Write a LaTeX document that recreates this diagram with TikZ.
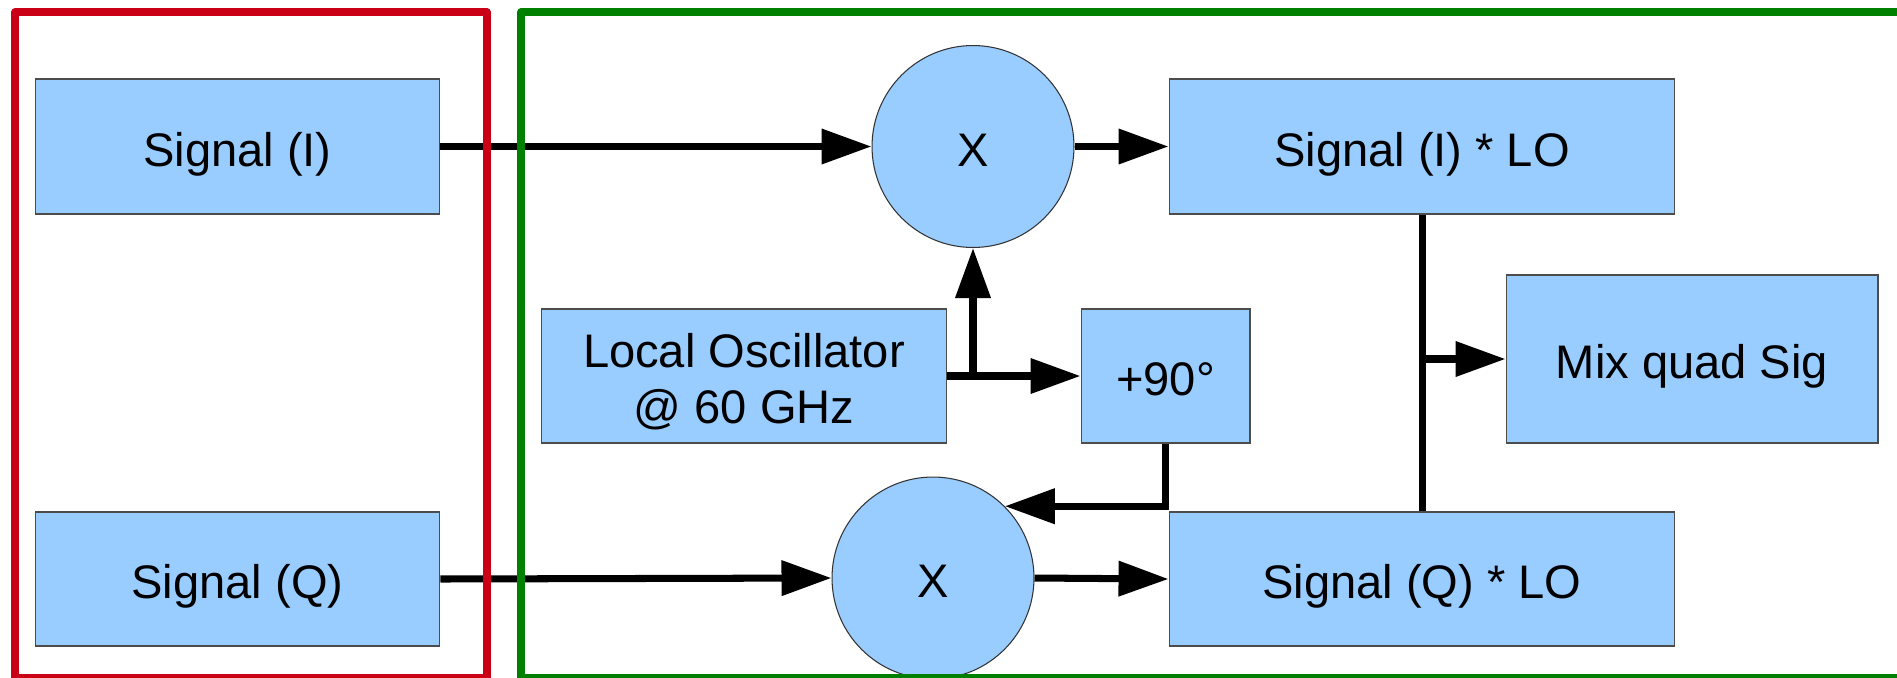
\documentclass[tikz,border=0pt]{standalone}
\usepackage{fontspec}
\setmainfont{Liberation Sans}
\usetikzlibrary{arrows.meta}
\definecolor{boxblue}{HTML}{99CCFF}
\definecolor{framered}{HTML}{C90016}
\definecolor{framegreen}{HTML}{008000}

\begin{document}
\begin{tikzpicture}[
  x=0.02cm, y=-0.02cm,
  txt/.style={font=\fontsize{26.8pt}{32pt}\selectfont},
  cell/.style={txt,rectangle,draw=black!70,line width=0.6pt,fill=boxblue,inner sep=0pt,align=center},
  blk/.style={cell,text height=0.9cm,text depth=0.12cm},
  mixer/.style={txt,circle,draw=black!80,line width=0.6pt,fill=boxblue,inner sep=0pt,minimum size=4.04cm,text height=0.9cm,text depth=0.12cm},
  wire/.style={line width=4pt},
  flow/.style={wire,-{Triangle[length=1cm,width=0.68cm]}},
  frame/.style={line width=4pt,line join=round}
]
\useasboundingbox (0,0) rectangle (1897,677);
\clip (0,0) rectangle (1897,677);

% ---- Inputs ----
\node[blk,minimum width=8.1cm,minimum height=2.7cm] (sigI) at (237.5,146.5) {Signal (I)};
\node[blk,minimum width=8.1cm,minimum height=2.68cm] (sigQ) at (237.5,579) {Signal (Q)};

% ---- Mixers and oscillator ----
\node[mixer] (mixI) at (973,146.5) {X};
\node[mixer] (mixQ) at (933,578) {X};
\node[cell,minimum width=8.1cm,minimum height=2.68cm] (lo) at (744,376) {\rule{0pt}{0.9cm}Local Oscillator\\@ 60 GHz};
\node[blk,minimum width=3.38cm,minimum height=2.68cm] (shift) at (1165.5,376) {+90°};

% ---- Products ----
\node[blk,minimum width=10.12cm,minimum height=2.7cm] (prodI) at (1422,146.5) {Signal (I) * LO};
\node[blk,minimum width=10.12cm,minimum height=2.68cm] (prodQ) at (1422,579) {Signal (Q) * LO};
\node[blk,minimum width=7.44cm,minimum height=3.36cm] (mixquad) at (1692,359) {Mix quad Sig};

% Connectors
\draw[flow] (sigI.east) -- (mixI.west);
\draw[flow] (sigQ.east) -- (mixQ.west);
\draw[flow] (mixI.east) -- (prodI.west);
\draw[flow] (mixQ.east) -- (prodQ.west);
\draw[flow] (lo.east) -- (shift.west);
\draw[flow] (mixI.south |- lo.east) -- (mixI.south);
\draw[flow] (shift.south) |- (mixQ.45);
\draw[wire] (prodI.south) -- (prodQ.north);
\draw[flow] (prodI.south |- mixquad.west) -- (mixquad.west);

% ---- Frames ----
\draw[frame,draw=framered] (15,12) rectangle (487,678);
\draw[frame,draw=framegreen] (521,12) rectangle (1910,678);

\end{tikzpicture}
\end{document}
